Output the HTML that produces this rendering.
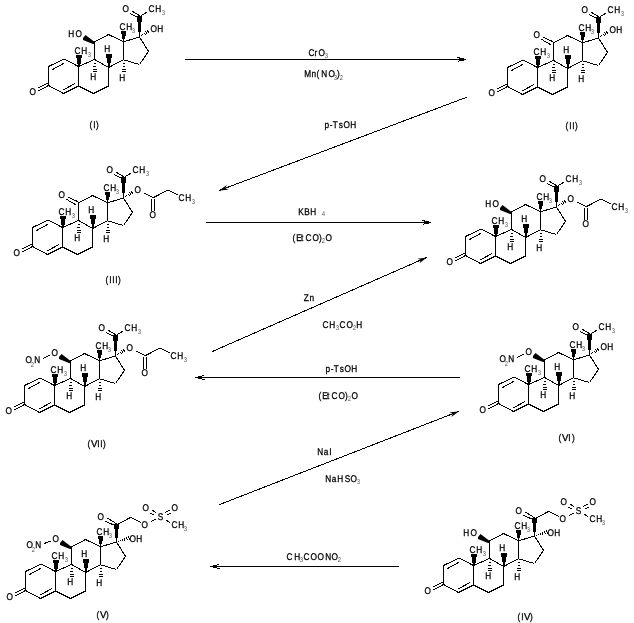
<!DOCTYPE html>
<html><head><meta charset="utf-8"><style>
html,body{margin:0;padding:0;background:#fff;width:634px;height:623px;overflow:hidden}
svg{display:block;will-change:transform}
text{font-family:"Liberation Sans",sans-serif;fill:#000;stroke:#000;stroke-width:0.3px;text-rendering:geometricPrecision}
tspan.s,text.s{stroke:none;fill:#555555}
line{stroke:#000}
polygon,rect{fill:#000}
</style></head><body>
<svg width="634" height="623" viewBox="0 0 634 623">
<rect width="634" height="623" style="fill:#fff"/>
<g shape-rendering="crispEdges">
<g transform="translate(0,0)">
<line x1="64.00" y1="59.00" x2="48.50" y2="66.50" stroke-width="1.0"/>
<line x1="48.50" y1="66.50" x2="48.50" y2="85.50" stroke-width="1.0"/>
<line x1="48.50" y1="85.50" x2="63.50" y2="93.50" stroke-width="1.0"/>
<line x1="63.50" y1="93.50" x2="78.50" y2="86.00" stroke-width="1.0"/>
<line x1="78.50" y1="86.00" x2="78.50" y2="66.50" stroke-width="1.0"/>
<line x1="78.50" y1="66.50" x2="64.00" y2="59.00" stroke-width="1.0"/>
<line x1="78.50" y1="86.00" x2="93.50" y2="93.50" stroke-width="1.0"/>
<line x1="93.50" y1="93.50" x2="108.50" y2="86.00" stroke-width="1.0"/>
<line x1="108.50" y1="86.00" x2="108.50" y2="67.50" stroke-width="1.0"/>
<line x1="108.50" y1="67.50" x2="94.50" y2="59.50" stroke-width="1.0"/>
<line x1="94.50" y1="59.50" x2="78.50" y2="66.50" stroke-width="1.0"/>
<line x1="94.50" y1="59.50" x2="94.50" y2="42.00" stroke-width="1.0"/>
<line x1="94.50" y1="42.00" x2="108.50" y2="34.50" stroke-width="1.0"/>
<line x1="108.50" y1="34.50" x2="123.50" y2="41.80" stroke-width="1.0"/>
<line x1="123.50" y1="41.80" x2="123.50" y2="59.80" stroke-width="1.0"/>
<line x1="123.50" y1="59.80" x2="108.50" y2="67.50" stroke-width="1.0"/>
<line x1="123.50" y1="41.80" x2="139.50" y2="37.00" stroke-width="1.0"/>
<line x1="139.50" y1="37.00" x2="148.50" y2="51.40" stroke-width="1.0"/>
<line x1="148.50" y1="51.40" x2="139.50" y2="64.50" stroke-width="1.0"/>
<line x1="139.50" y1="64.50" x2="123.50" y2="59.80" stroke-width="1.0"/>
<line x1="52.10" y1="69.80" x2="64.00" y2="63.20" stroke-width="1.0"/>
<line x1="63.40" y1="89.80" x2="74.70" y2="83.70" stroke-width="1.0"/>
<line x1="37.50" y1="88.40" x2="47.50" y2="83.20" stroke-width="1.0"/>
<line x1="38.50" y1="90.80" x2="48.50" y2="85.50" stroke-width="1.0"/>
<text transform="translate(29.61,95.00) scale(0.85,1)" font-size="9.7">O</text>
<polygon points="76,55 82,55 82,58 81,58 81,64 80,64 80,67 78,67 78,64 77,64 77,58 76,58"/>
<text transform="translate(74.58,54.00) scale(0.85,1)" font-size="9.7">C</text>
<text transform="translate(81.32,54.00) scale(0.85,1)" font-size="9.7">H</text>
<text transform="translate(87.77,57.00) scale(0.85,1)" font-size="7.0" class="s" fill="#9a9a9a">3</text>
<polygon points="121,31 126,31 126,36 125,36 125,39 124,39 124,42 123,42 123,39 122,39 122,34 121,34"/>
<text transform="translate(119.58,30.00) scale(0.85,1)" font-size="9.7">C</text>
<text transform="translate(126.32,30.00) scale(0.85,1)" font-size="9.7">H</text>
<text transform="translate(131.77,33.00) scale(0.85,1)" font-size="7.0" class="s" fill="#9a9a9a">3</text>
<polygon points="106,54 112,54 112,58 111,58 111,63 110,63 110,67 108,67 108,63 107,63 107,58 106,58"/>
<text transform="translate(104.32,52.00) scale(0.85,1)" font-size="9.7">H</text>
<line x1="93.80" y1="63.50" x2="95.80" y2="63.50" stroke-width="1.0"/>
<line x1="93.40" y1="66.50" x2="96.20" y2="66.50" stroke-width="1.0"/>
<line x1="92.90" y1="69.20" x2="96.70" y2="69.20" stroke-width="1.0"/>
<line x1="92.60" y1="71.50" x2="97.00" y2="71.50" stroke-width="1.0"/>
<text transform="translate(90.32,80.00) scale(0.85,1)" font-size="9.7">H</text>
<line x1="123.00" y1="63.50" x2="125.00" y2="63.50" stroke-width="1.0"/>
<line x1="122.60" y1="66.50" x2="125.40" y2="66.50" stroke-width="1.0"/>
<line x1="122.10" y1="69.20" x2="125.90" y2="69.20" stroke-width="1.0"/>
<line x1="121.80" y1="71.50" x2="126.20" y2="71.50" stroke-width="1.0"/>
<text transform="translate(119.32,81.00) scale(0.85,1)" font-size="9.7">H</text>
<polygon shape-rendering="auto" points="85.50,35.00 95.00,42.30 95.00,44.00 93.00,44.00 83.00,40.00 83.00,38.00"/>
<text transform="translate(68.32,37.00) scale(0.85,1)" font-size="9.7">H</text>
<text transform="translate(75.61,37.00) scale(0.85,1)" font-size="9.7">O</text>
<polygon points="137,16 142,16 142,22 141,22 141,32 140,32 140,37 139,37 139,32 138,32 138,22 137,22"/>
<line x1="131.80" y1="11.00" x2="139.70" y2="15.80" stroke-width="1.0"/>
<line x1="129.90" y1="13.40" x2="137.00" y2="17.00" stroke-width="1.0"/>
<text transform="translate(122.61,12.00) scale(0.85,1)" font-size="9.7">O</text>
<line x1="140.90" y1="15.80" x2="146.80" y2="12.20" stroke-width="1.0"/>
<text transform="translate(148.58,12.00) scale(0.85,1)" font-size="9.7">C</text>
<text transform="translate(155.32,12.00) scale(0.85,1)" font-size="9.7">H</text>
<text transform="translate(161.77,15.00) scale(0.85,1)" font-size="7.0" class="s" fill="#9a9a9a">3</text>
<line x1="141.01" y1="35.48" x2="141.55" y2="36.32" stroke-width="1.0"/>
<line x1="142.48" y1="34.07" x2="143.44" y2="35.53" stroke-width="1.0"/>
<line x1="143.96" y1="32.65" x2="145.32" y2="34.75" stroke-width="1.0"/>
<line x1="145.43" y1="31.24" x2="147.21" y2="33.96" stroke-width="1.0"/>
<line x1="146.90" y1="29.83" x2="149.10" y2="33.17" stroke-width="1.0"/>
<text transform="translate(150.61,32.00) scale(0.85,1)" font-size="9.7">O</text>
<text transform="translate(157.32,32.00) scale(0.85,1)" font-size="9.7">H</text>
</g>
<g transform="translate(459,1)">
<line x1="64.00" y1="59.00" x2="48.50" y2="66.50" stroke-width="1.0"/>
<line x1="48.50" y1="66.50" x2="48.50" y2="85.50" stroke-width="1.0"/>
<line x1="48.50" y1="85.50" x2="63.50" y2="93.50" stroke-width="1.0"/>
<line x1="63.50" y1="93.50" x2="78.50" y2="86.00" stroke-width="1.0"/>
<line x1="78.50" y1="86.00" x2="78.50" y2="66.50" stroke-width="1.0"/>
<line x1="78.50" y1="66.50" x2="64.00" y2="59.00" stroke-width="1.0"/>
<line x1="78.50" y1="86.00" x2="93.50" y2="93.50" stroke-width="1.0"/>
<line x1="93.50" y1="93.50" x2="108.50" y2="86.00" stroke-width="1.0"/>
<line x1="108.50" y1="86.00" x2="108.50" y2="67.50" stroke-width="1.0"/>
<line x1="108.50" y1="67.50" x2="94.50" y2="59.50" stroke-width="1.0"/>
<line x1="94.50" y1="59.50" x2="78.50" y2="66.50" stroke-width="1.0"/>
<line x1="94.50" y1="59.50" x2="94.50" y2="42.00" stroke-width="1.0"/>
<line x1="94.50" y1="42.00" x2="108.50" y2="34.50" stroke-width="1.0"/>
<line x1="108.50" y1="34.50" x2="123.50" y2="41.80" stroke-width="1.0"/>
<line x1="123.50" y1="41.80" x2="123.50" y2="59.80" stroke-width="1.0"/>
<line x1="123.50" y1="59.80" x2="108.50" y2="67.50" stroke-width="1.0"/>
<line x1="123.50" y1="41.80" x2="139.50" y2="37.00" stroke-width="1.0"/>
<line x1="139.50" y1="37.00" x2="148.50" y2="51.40" stroke-width="1.0"/>
<line x1="148.50" y1="51.40" x2="139.50" y2="64.50" stroke-width="1.0"/>
<line x1="139.50" y1="64.50" x2="123.50" y2="59.80" stroke-width="1.0"/>
<line x1="52.10" y1="69.80" x2="64.00" y2="63.20" stroke-width="1.0"/>
<line x1="63.40" y1="89.80" x2="74.70" y2="83.70" stroke-width="1.0"/>
<line x1="37.50" y1="88.40" x2="47.50" y2="83.20" stroke-width="1.0"/>
<line x1="38.50" y1="90.80" x2="48.50" y2="85.50" stroke-width="1.0"/>
<text transform="translate(29.61,95.00) scale(0.85,1)" font-size="9.7">O</text>
<polygon points="76,55 82,55 82,58 81,58 81,64 80,64 80,67 78,67 78,64 77,64 77,58 76,58"/>
<text transform="translate(74.58,54.00) scale(0.85,1)" font-size="9.7">C</text>
<text transform="translate(81.32,54.00) scale(0.85,1)" font-size="9.7">H</text>
<text transform="translate(87.77,57.00) scale(0.85,1)" font-size="7.0" class="s" fill="#9a9a9a">3</text>
<polygon points="121,31 126,31 126,36 125,36 125,39 124,39 124,42 123,42 123,39 122,39 122,34 121,34"/>
<text transform="translate(119.58,30.00) scale(0.85,1)" font-size="9.7">C</text>
<text transform="translate(126.32,30.00) scale(0.85,1)" font-size="9.7">H</text>
<text transform="translate(131.77,33.00) scale(0.85,1)" font-size="7.0" class="s" fill="#9a9a9a">3</text>
<polygon points="106,54 112,54 112,58 111,58 111,63 110,63 110,67 108,67 108,63 107,63 107,58 106,58"/>
<text transform="translate(104.32,52.00) scale(0.85,1)" font-size="9.7">H</text>
<line x1="93.80" y1="63.50" x2="95.80" y2="63.50" stroke-width="1.0"/>
<line x1="93.40" y1="66.50" x2="96.20" y2="66.50" stroke-width="1.0"/>
<line x1="92.90" y1="69.20" x2="96.70" y2="69.20" stroke-width="1.0"/>
<line x1="92.60" y1="71.50" x2="97.00" y2="71.50" stroke-width="1.0"/>
<text transform="translate(90.32,80.00) scale(0.85,1)" font-size="9.7">H</text>
<line x1="123.00" y1="63.50" x2="125.00" y2="63.50" stroke-width="1.0"/>
<line x1="122.60" y1="66.50" x2="125.40" y2="66.50" stroke-width="1.0"/>
<line x1="122.10" y1="69.20" x2="125.90" y2="69.20" stroke-width="1.0"/>
<line x1="121.80" y1="71.50" x2="126.20" y2="71.50" stroke-width="1.0"/>
<text transform="translate(119.32,81.00) scale(0.85,1)" font-size="9.7">H</text>
<line x1="84.30" y1="36.20" x2="93.60" y2="40.50" stroke-width="1.0"/>
<line x1="82.10" y1="38.10" x2="91.70" y2="43.70" stroke-width="1.0"/>
<text transform="translate(74.61,37.00) scale(0.85,1)" font-size="9.7">O</text>
<polygon points="137,16 142,16 142,22 141,22 141,32 140,32 140,37 139,37 139,32 138,32 138,22 137,22"/>
<line x1="131.80" y1="11.00" x2="139.70" y2="15.80" stroke-width="1.0"/>
<line x1="129.90" y1="13.40" x2="137.00" y2="17.00" stroke-width="1.0"/>
<text transform="translate(122.61,12.00) scale(0.85,1)" font-size="9.7">O</text>
<line x1="140.90" y1="15.80" x2="146.80" y2="12.20" stroke-width="1.0"/>
<text transform="translate(148.58,12.00) scale(0.85,1)" font-size="9.7">C</text>
<text transform="translate(155.32,12.00) scale(0.85,1)" font-size="9.7">H</text>
<text transform="translate(161.77,15.00) scale(0.85,1)" font-size="7.0" class="s" fill="#9a9a9a">3</text>
<line x1="141.01" y1="35.48" x2="141.55" y2="36.32" stroke-width="1.0"/>
<line x1="142.48" y1="34.07" x2="143.44" y2="35.53" stroke-width="1.0"/>
<line x1="143.96" y1="32.65" x2="145.32" y2="34.75" stroke-width="1.0"/>
<line x1="145.43" y1="31.24" x2="147.21" y2="33.96" stroke-width="1.0"/>
<line x1="146.90" y1="29.83" x2="149.10" y2="33.17" stroke-width="1.0"/>
<text transform="translate(150.61,32.00) scale(0.85,1)" font-size="9.7">O</text>
<text transform="translate(157.32,32.00) scale(0.85,1)" font-size="9.7">H</text>
</g>
<g transform="translate(-16,161)">
<line x1="64.00" y1="59.00" x2="48.50" y2="66.50" stroke-width="1.0"/>
<line x1="48.50" y1="66.50" x2="48.50" y2="85.50" stroke-width="1.0"/>
<line x1="48.50" y1="85.50" x2="63.50" y2="93.50" stroke-width="1.0"/>
<line x1="63.50" y1="93.50" x2="78.50" y2="86.00" stroke-width="1.0"/>
<line x1="78.50" y1="86.00" x2="78.50" y2="66.50" stroke-width="1.0"/>
<line x1="78.50" y1="66.50" x2="64.00" y2="59.00" stroke-width="1.0"/>
<line x1="78.50" y1="86.00" x2="93.50" y2="93.50" stroke-width="1.0"/>
<line x1="93.50" y1="93.50" x2="108.50" y2="86.00" stroke-width="1.0"/>
<line x1="108.50" y1="86.00" x2="108.50" y2="67.50" stroke-width="1.0"/>
<line x1="108.50" y1="67.50" x2="94.50" y2="59.50" stroke-width="1.0"/>
<line x1="94.50" y1="59.50" x2="78.50" y2="66.50" stroke-width="1.0"/>
<line x1="94.50" y1="59.50" x2="94.50" y2="42.00" stroke-width="1.0"/>
<line x1="94.50" y1="42.00" x2="108.50" y2="34.50" stroke-width="1.0"/>
<line x1="108.50" y1="34.50" x2="123.50" y2="41.80" stroke-width="1.0"/>
<line x1="123.50" y1="41.80" x2="123.50" y2="59.80" stroke-width="1.0"/>
<line x1="123.50" y1="59.80" x2="108.50" y2="67.50" stroke-width="1.0"/>
<line x1="123.50" y1="41.80" x2="139.50" y2="37.00" stroke-width="1.0"/>
<line x1="139.50" y1="37.00" x2="148.50" y2="51.40" stroke-width="1.0"/>
<line x1="148.50" y1="51.40" x2="139.50" y2="64.50" stroke-width="1.0"/>
<line x1="139.50" y1="64.50" x2="123.50" y2="59.80" stroke-width="1.0"/>
<line x1="52.10" y1="69.80" x2="64.00" y2="63.20" stroke-width="1.0"/>
<line x1="63.40" y1="89.80" x2="74.70" y2="83.70" stroke-width="1.0"/>
<line x1="37.50" y1="88.40" x2="47.50" y2="83.20" stroke-width="1.0"/>
<line x1="38.50" y1="90.80" x2="48.50" y2="85.50" stroke-width="1.0"/>
<text transform="translate(29.61,95.00) scale(0.85,1)" font-size="9.7">O</text>
<polygon points="76,55 82,55 82,58 81,58 81,64 80,64 80,67 78,67 78,64 77,64 77,58 76,58"/>
<text transform="translate(74.58,54.00) scale(0.85,1)" font-size="9.7">C</text>
<text transform="translate(81.32,54.00) scale(0.85,1)" font-size="9.7">H</text>
<text transform="translate(87.77,57.00) scale(0.85,1)" font-size="7.0" class="s" fill="#9a9a9a">3</text>
<polygon points="121,31 126,31 126,36 125,36 125,39 124,39 124,42 123,42 123,39 122,39 122,34 121,34"/>
<text transform="translate(119.58,30.00) scale(0.85,1)" font-size="9.7">C</text>
<text transform="translate(126.32,30.00) scale(0.85,1)" font-size="9.7">H</text>
<text transform="translate(131.77,33.00) scale(0.85,1)" font-size="7.0" class="s" fill="#9a9a9a">3</text>
<polygon points="106,54 112,54 112,58 111,58 111,63 110,63 110,67 108,67 108,63 107,63 107,58 106,58"/>
<text transform="translate(104.32,52.00) scale(0.85,1)" font-size="9.7">H</text>
<line x1="93.80" y1="63.50" x2="95.80" y2="63.50" stroke-width="1.0"/>
<line x1="93.40" y1="66.50" x2="96.20" y2="66.50" stroke-width="1.0"/>
<line x1="92.90" y1="69.20" x2="96.70" y2="69.20" stroke-width="1.0"/>
<line x1="92.60" y1="71.50" x2="97.00" y2="71.50" stroke-width="1.0"/>
<text transform="translate(90.32,80.00) scale(0.85,1)" font-size="9.7">H</text>
<line x1="123.00" y1="63.50" x2="125.00" y2="63.50" stroke-width="1.0"/>
<line x1="122.60" y1="66.50" x2="125.40" y2="66.50" stroke-width="1.0"/>
<line x1="122.10" y1="69.20" x2="125.90" y2="69.20" stroke-width="1.0"/>
<line x1="121.80" y1="71.50" x2="126.20" y2="71.50" stroke-width="1.0"/>
<text transform="translate(119.32,81.00) scale(0.85,1)" font-size="9.7">H</text>
<line x1="84.30" y1="36.20" x2="93.60" y2="40.50" stroke-width="1.0"/>
<line x1="82.10" y1="38.10" x2="91.70" y2="43.70" stroke-width="1.0"/>
<text transform="translate(74.61,37.00) scale(0.85,1)" font-size="9.7">O</text>
<polygon points="137,16 142,16 142,22 141,22 141,32 140,32 140,37 139,37 139,32 138,32 138,22 137,22"/>
<line x1="131.80" y1="11.00" x2="139.70" y2="15.80" stroke-width="1.0"/>
<line x1="129.90" y1="13.40" x2="137.00" y2="17.00" stroke-width="1.0"/>
<text transform="translate(122.61,12.00) scale(0.85,1)" font-size="9.7">O</text>
<line x1="140.90" y1="15.80" x2="146.80" y2="12.20" stroke-width="1.0"/>
<text transform="translate(148.58,12.00) scale(0.85,1)" font-size="9.7">C</text>
<text transform="translate(155.32,12.00) scale(0.85,1)" font-size="9.7">H</text>
<text transform="translate(161.77,15.00) scale(0.85,1)" font-size="7.0" class="s" fill="#9a9a9a">3</text>
<line x1="141.01" y1="35.48" x2="141.55" y2="36.32" stroke-width="1.0"/>
<line x1="142.48" y1="34.07" x2="143.44" y2="35.53" stroke-width="1.0"/>
<line x1="143.96" y1="32.65" x2="145.32" y2="34.75" stroke-width="1.0"/>
<line x1="145.43" y1="31.24" x2="147.21" y2="33.96" stroke-width="1.0"/>
<line x1="146.90" y1="29.83" x2="149.10" y2="33.17" stroke-width="1.0"/>
<text transform="translate(150.61,32.00) scale(0.85,1)" font-size="9.7">O</text>
<line x1="160.30" y1="32.00" x2="169.20" y2="36.70" stroke-width="1.0"/>
<line x1="167.40" y1="37.70" x2="167.40" y2="50.00" stroke-width="1.0"/>
<line x1="170.20" y1="37.70" x2="170.20" y2="50.00" stroke-width="1.0"/>
<text transform="translate(165.61,57.00) scale(0.85,1)" font-size="9.7">O</text>
<line x1="169.20" y1="36.70" x2="183.90" y2="29.10" stroke-width="1.0"/>
<line x1="183.90" y1="29.10" x2="193.80" y2="33.90" stroke-width="1.0"/>
<text transform="translate(194.58,40.00) scale(0.85,1)" font-size="9.7">C</text>
<text transform="translate(201.32,40.00) scale(0.85,1)" font-size="9.7">H</text>
<text transform="translate(207.77,43.00) scale(0.85,1)" font-size="7.0" class="s" fill="#9a9a9a">3</text>
</g>
<g transform="translate(417,170)">
<line x1="64.00" y1="59.00" x2="48.50" y2="66.50" stroke-width="1.0"/>
<line x1="48.50" y1="66.50" x2="48.50" y2="85.50" stroke-width="1.0"/>
<line x1="48.50" y1="85.50" x2="63.50" y2="93.50" stroke-width="1.0"/>
<line x1="63.50" y1="93.50" x2="78.50" y2="86.00" stroke-width="1.0"/>
<line x1="78.50" y1="86.00" x2="78.50" y2="66.50" stroke-width="1.0"/>
<line x1="78.50" y1="66.50" x2="64.00" y2="59.00" stroke-width="1.0"/>
<line x1="78.50" y1="86.00" x2="93.50" y2="93.50" stroke-width="1.0"/>
<line x1="93.50" y1="93.50" x2="108.50" y2="86.00" stroke-width="1.0"/>
<line x1="108.50" y1="86.00" x2="108.50" y2="67.50" stroke-width="1.0"/>
<line x1="108.50" y1="67.50" x2="94.50" y2="59.50" stroke-width="1.0"/>
<line x1="94.50" y1="59.50" x2="78.50" y2="66.50" stroke-width="1.0"/>
<line x1="94.50" y1="59.50" x2="94.50" y2="42.00" stroke-width="1.0"/>
<line x1="94.50" y1="42.00" x2="108.50" y2="34.50" stroke-width="1.0"/>
<line x1="108.50" y1="34.50" x2="123.50" y2="41.80" stroke-width="1.0"/>
<line x1="123.50" y1="41.80" x2="123.50" y2="59.80" stroke-width="1.0"/>
<line x1="123.50" y1="59.80" x2="108.50" y2="67.50" stroke-width="1.0"/>
<line x1="123.50" y1="41.80" x2="139.50" y2="37.00" stroke-width="1.0"/>
<line x1="139.50" y1="37.00" x2="148.50" y2="51.40" stroke-width="1.0"/>
<line x1="148.50" y1="51.40" x2="139.50" y2="64.50" stroke-width="1.0"/>
<line x1="139.50" y1="64.50" x2="123.50" y2="59.80" stroke-width="1.0"/>
<line x1="52.10" y1="69.80" x2="64.00" y2="63.20" stroke-width="1.0"/>
<line x1="63.40" y1="89.80" x2="74.70" y2="83.70" stroke-width="1.0"/>
<line x1="37.50" y1="88.40" x2="47.50" y2="83.20" stroke-width="1.0"/>
<line x1="38.50" y1="90.80" x2="48.50" y2="85.50" stroke-width="1.0"/>
<text transform="translate(29.61,95.00) scale(0.85,1)" font-size="9.7">O</text>
<polygon points="76,55 82,55 82,58 81,58 81,64 80,64 80,67 78,67 78,64 77,64 77,58 76,58"/>
<text transform="translate(74.58,54.00) scale(0.85,1)" font-size="9.7">C</text>
<text transform="translate(81.32,54.00) scale(0.85,1)" font-size="9.7">H</text>
<text transform="translate(87.77,57.00) scale(0.85,1)" font-size="7.0" class="s" fill="#9a9a9a">3</text>
<polygon points="121,31 126,31 126,36 125,36 125,39 124,39 124,42 123,42 123,39 122,39 122,34 121,34"/>
<text transform="translate(119.58,30.00) scale(0.85,1)" font-size="9.7">C</text>
<text transform="translate(126.32,30.00) scale(0.85,1)" font-size="9.7">H</text>
<text transform="translate(131.77,33.00) scale(0.85,1)" font-size="7.0" class="s" fill="#9a9a9a">3</text>
<polygon points="106,54 112,54 112,58 111,58 111,63 110,63 110,67 108,67 108,63 107,63 107,58 106,58"/>
<text transform="translate(104.32,52.00) scale(0.85,1)" font-size="9.7">H</text>
<line x1="93.80" y1="63.50" x2="95.80" y2="63.50" stroke-width="1.0"/>
<line x1="93.40" y1="66.50" x2="96.20" y2="66.50" stroke-width="1.0"/>
<line x1="92.90" y1="69.20" x2="96.70" y2="69.20" stroke-width="1.0"/>
<line x1="92.60" y1="71.50" x2="97.00" y2="71.50" stroke-width="1.0"/>
<text transform="translate(90.32,80.00) scale(0.85,1)" font-size="9.7">H</text>
<line x1="123.00" y1="63.50" x2="125.00" y2="63.50" stroke-width="1.0"/>
<line x1="122.60" y1="66.50" x2="125.40" y2="66.50" stroke-width="1.0"/>
<line x1="122.10" y1="69.20" x2="125.90" y2="69.20" stroke-width="1.0"/>
<line x1="121.80" y1="71.50" x2="126.20" y2="71.50" stroke-width="1.0"/>
<text transform="translate(119.32,81.00) scale(0.85,1)" font-size="9.7">H</text>
<polygon shape-rendering="auto" points="85.50,35.00 95.00,42.30 95.00,44.00 93.00,44.00 83.00,40.00 83.00,38.00"/>
<text transform="translate(68.32,37.00) scale(0.85,1)" font-size="9.7">H</text>
<text transform="translate(75.61,37.00) scale(0.85,1)" font-size="9.7">O</text>
<polygon points="137,16 142,16 142,22 141,22 141,32 140,32 140,37 139,37 139,32 138,32 138,22 137,22"/>
<line x1="131.80" y1="11.00" x2="139.70" y2="15.80" stroke-width="1.0"/>
<line x1="129.90" y1="13.40" x2="137.00" y2="17.00" stroke-width="1.0"/>
<text transform="translate(122.61,12.00) scale(0.85,1)" font-size="9.7">O</text>
<line x1="140.90" y1="15.80" x2="146.80" y2="12.20" stroke-width="1.0"/>
<text transform="translate(148.58,12.00) scale(0.85,1)" font-size="9.7">C</text>
<text transform="translate(155.32,12.00) scale(0.85,1)" font-size="9.7">H</text>
<text transform="translate(161.77,15.00) scale(0.85,1)" font-size="7.0" class="s" fill="#9a9a9a">3</text>
<line x1="141.01" y1="35.48" x2="141.55" y2="36.32" stroke-width="1.0"/>
<line x1="142.48" y1="34.07" x2="143.44" y2="35.53" stroke-width="1.0"/>
<line x1="143.96" y1="32.65" x2="145.32" y2="34.75" stroke-width="1.0"/>
<line x1="145.43" y1="31.24" x2="147.21" y2="33.96" stroke-width="1.0"/>
<line x1="146.90" y1="29.83" x2="149.10" y2="33.17" stroke-width="1.0"/>
<text transform="translate(150.61,32.00) scale(0.85,1)" font-size="9.7">O</text>
<line x1="160.30" y1="32.00" x2="169.20" y2="36.70" stroke-width="1.0"/>
<line x1="167.40" y1="37.70" x2="167.40" y2="50.00" stroke-width="1.0"/>
<line x1="170.20" y1="37.70" x2="170.20" y2="50.00" stroke-width="1.0"/>
<text transform="translate(165.61,57.00) scale(0.85,1)" font-size="9.7">O</text>
<line x1="169.20" y1="36.70" x2="183.90" y2="29.10" stroke-width="1.0"/>
<line x1="183.90" y1="29.10" x2="193.80" y2="33.90" stroke-width="1.0"/>
<text transform="translate(194.58,40.00) scale(0.85,1)" font-size="9.7">C</text>
<text transform="translate(201.32,40.00) scale(0.85,1)" font-size="9.7">H</text>
<text transform="translate(207.77,43.00) scale(0.85,1)" font-size="7.0" class="s" fill="#9a9a9a">3</text>
</g>
<g transform="translate(-24,319)">
<line x1="64.00" y1="59.00" x2="48.50" y2="66.50" stroke-width="1.0"/>
<line x1="48.50" y1="66.50" x2="48.50" y2="85.50" stroke-width="1.0"/>
<line x1="48.50" y1="85.50" x2="63.50" y2="93.50" stroke-width="1.0"/>
<line x1="63.50" y1="93.50" x2="78.50" y2="86.00" stroke-width="1.0"/>
<line x1="78.50" y1="86.00" x2="78.50" y2="66.50" stroke-width="1.0"/>
<line x1="78.50" y1="66.50" x2="64.00" y2="59.00" stroke-width="1.0"/>
<line x1="78.50" y1="86.00" x2="93.50" y2="93.50" stroke-width="1.0"/>
<line x1="93.50" y1="93.50" x2="108.50" y2="86.00" stroke-width="1.0"/>
<line x1="108.50" y1="86.00" x2="108.50" y2="67.50" stroke-width="1.0"/>
<line x1="108.50" y1="67.50" x2="94.50" y2="59.50" stroke-width="1.0"/>
<line x1="94.50" y1="59.50" x2="78.50" y2="66.50" stroke-width="1.0"/>
<line x1="94.50" y1="59.50" x2="94.50" y2="42.00" stroke-width="1.0"/>
<line x1="94.50" y1="42.00" x2="108.50" y2="34.50" stroke-width="1.0"/>
<line x1="108.50" y1="34.50" x2="123.50" y2="41.80" stroke-width="1.0"/>
<line x1="123.50" y1="41.80" x2="123.50" y2="59.80" stroke-width="1.0"/>
<line x1="123.50" y1="59.80" x2="108.50" y2="67.50" stroke-width="1.0"/>
<line x1="123.50" y1="41.80" x2="139.50" y2="37.00" stroke-width="1.0"/>
<line x1="139.50" y1="37.00" x2="148.50" y2="51.40" stroke-width="1.0"/>
<line x1="148.50" y1="51.40" x2="139.50" y2="64.50" stroke-width="1.0"/>
<line x1="139.50" y1="64.50" x2="123.50" y2="59.80" stroke-width="1.0"/>
<line x1="52.10" y1="69.80" x2="64.00" y2="63.20" stroke-width="1.0"/>
<line x1="63.40" y1="89.80" x2="74.70" y2="83.70" stroke-width="1.0"/>
<line x1="37.50" y1="88.40" x2="47.50" y2="83.20" stroke-width="1.0"/>
<line x1="38.50" y1="90.80" x2="48.50" y2="85.50" stroke-width="1.0"/>
<text transform="translate(29.61,95.00) scale(0.85,1)" font-size="9.7">O</text>
<polygon points="76,55 82,55 82,58 81,58 81,64 80,64 80,67 78,67 78,64 77,64 77,58 76,58"/>
<text transform="translate(74.58,54.00) scale(0.85,1)" font-size="9.7">C</text>
<text transform="translate(81.32,54.00) scale(0.85,1)" font-size="9.7">H</text>
<text transform="translate(87.77,57.00) scale(0.85,1)" font-size="7.0" class="s" fill="#9a9a9a">3</text>
<polygon points="121,31 126,31 126,36 125,36 125,39 124,39 124,42 123,42 123,39 122,39 122,34 121,34"/>
<text transform="translate(119.58,30.00) scale(0.85,1)" font-size="9.7">C</text>
<text transform="translate(126.32,30.00) scale(0.85,1)" font-size="9.7">H</text>
<text transform="translate(131.77,33.00) scale(0.85,1)" font-size="7.0" class="s" fill="#9a9a9a">3</text>
<polygon points="106,54 112,54 112,58 111,58 111,63 110,63 110,67 108,67 108,63 107,63 107,58 106,58"/>
<text transform="translate(104.32,52.00) scale(0.85,1)" font-size="9.7">H</text>
<line x1="93.80" y1="63.50" x2="95.80" y2="63.50" stroke-width="1.0"/>
<line x1="93.40" y1="66.50" x2="96.20" y2="66.50" stroke-width="1.0"/>
<line x1="92.90" y1="69.20" x2="96.70" y2="69.20" stroke-width="1.0"/>
<line x1="92.60" y1="71.50" x2="97.00" y2="71.50" stroke-width="1.0"/>
<text transform="translate(90.32,80.00) scale(0.85,1)" font-size="9.7">H</text>
<line x1="123.00" y1="63.50" x2="125.00" y2="63.50" stroke-width="1.0"/>
<line x1="122.60" y1="66.50" x2="125.40" y2="66.50" stroke-width="1.0"/>
<line x1="122.10" y1="69.20" x2="125.90" y2="69.20" stroke-width="1.0"/>
<line x1="121.80" y1="71.50" x2="126.20" y2="71.50" stroke-width="1.0"/>
<text transform="translate(119.32,81.00) scale(0.85,1)" font-size="9.7">H</text>
<polygon shape-rendering="auto" points="85.50,35.00 95.00,42.30 95.00,44.00 93.00,44.00 83.00,40.00 83.00,38.00"/>
<text transform="translate(75.61,37.00) scale(0.85,1)" font-size="9.7">O</text>
<line x1="67.40" y1="39.40" x2="73.50" y2="36.10" stroke-width="1.0"/>
<text transform="translate(58.32,44.00) scale(0.85,1)" font-size="9.7">N</text>
<text transform="translate(49.61,44.00) scale(0.85,1)" font-size="9.7">O</text>
<text transform="translate(54.70,48.00) scale(0.85,1)" font-size="7.0" class="s" fill="#9a9a9a">2</text>
<polygon points="137,16 142,16 142,22 141,22 141,32 140,32 140,37 139,37 139,32 138,32 138,22 137,22"/>
<line x1="131.80" y1="11.00" x2="139.70" y2="15.80" stroke-width="1.0"/>
<line x1="129.90" y1="13.40" x2="137.00" y2="17.00" stroke-width="1.0"/>
<text transform="translate(122.61,12.00) scale(0.85,1)" font-size="9.7">O</text>
<line x1="140.90" y1="15.80" x2="146.80" y2="12.20" stroke-width="1.0"/>
<text transform="translate(148.58,12.00) scale(0.85,1)" font-size="9.7">C</text>
<text transform="translate(155.32,12.00) scale(0.85,1)" font-size="9.7">H</text>
<text transform="translate(161.77,15.00) scale(0.85,1)" font-size="7.0" class="s" fill="#9a9a9a">3</text>
<line x1="141.01" y1="35.48" x2="141.55" y2="36.32" stroke-width="1.0"/>
<line x1="142.48" y1="34.07" x2="143.44" y2="35.53" stroke-width="1.0"/>
<line x1="143.96" y1="32.65" x2="145.32" y2="34.75" stroke-width="1.0"/>
<line x1="145.43" y1="31.24" x2="147.21" y2="33.96" stroke-width="1.0"/>
<line x1="146.90" y1="29.83" x2="149.10" y2="33.17" stroke-width="1.0"/>
<text transform="translate(150.61,32.00) scale(0.85,1)" font-size="9.7">O</text>
<line x1="160.30" y1="32.00" x2="169.20" y2="36.70" stroke-width="1.0"/>
<line x1="167.40" y1="37.70" x2="167.40" y2="50.00" stroke-width="1.0"/>
<line x1="170.20" y1="37.70" x2="170.20" y2="50.00" stroke-width="1.0"/>
<text transform="translate(165.61,57.00) scale(0.85,1)" font-size="9.7">O</text>
<line x1="169.20" y1="36.70" x2="183.90" y2="29.10" stroke-width="1.0"/>
<line x1="183.90" y1="29.10" x2="193.80" y2="33.90" stroke-width="1.0"/>
<text transform="translate(194.58,40.00) scale(0.85,1)" font-size="9.7">C</text>
<text transform="translate(201.32,40.00) scale(0.85,1)" font-size="9.7">H</text>
<text transform="translate(207.77,43.00) scale(0.85,1)" font-size="7.0" class="s" fill="#9a9a9a">3</text>
</g>
<g transform="translate(450,318)">
<line x1="64.00" y1="59.00" x2="48.50" y2="66.50" stroke-width="1.0"/>
<line x1="48.50" y1="66.50" x2="48.50" y2="85.50" stroke-width="1.0"/>
<line x1="48.50" y1="85.50" x2="63.50" y2="93.50" stroke-width="1.0"/>
<line x1="63.50" y1="93.50" x2="78.50" y2="86.00" stroke-width="1.0"/>
<line x1="78.50" y1="86.00" x2="78.50" y2="66.50" stroke-width="1.0"/>
<line x1="78.50" y1="66.50" x2="64.00" y2="59.00" stroke-width="1.0"/>
<line x1="78.50" y1="86.00" x2="93.50" y2="93.50" stroke-width="1.0"/>
<line x1="93.50" y1="93.50" x2="108.50" y2="86.00" stroke-width="1.0"/>
<line x1="108.50" y1="86.00" x2="108.50" y2="67.50" stroke-width="1.0"/>
<line x1="108.50" y1="67.50" x2="94.50" y2="59.50" stroke-width="1.0"/>
<line x1="94.50" y1="59.50" x2="78.50" y2="66.50" stroke-width="1.0"/>
<line x1="94.50" y1="59.50" x2="94.50" y2="42.00" stroke-width="1.0"/>
<line x1="94.50" y1="42.00" x2="108.50" y2="34.50" stroke-width="1.0"/>
<line x1="108.50" y1="34.50" x2="123.50" y2="41.80" stroke-width="1.0"/>
<line x1="123.50" y1="41.80" x2="123.50" y2="59.80" stroke-width="1.0"/>
<line x1="123.50" y1="59.80" x2="108.50" y2="67.50" stroke-width="1.0"/>
<line x1="123.50" y1="41.80" x2="139.50" y2="37.00" stroke-width="1.0"/>
<line x1="139.50" y1="37.00" x2="148.50" y2="51.40" stroke-width="1.0"/>
<line x1="148.50" y1="51.40" x2="139.50" y2="64.50" stroke-width="1.0"/>
<line x1="139.50" y1="64.50" x2="123.50" y2="59.80" stroke-width="1.0"/>
<line x1="52.10" y1="69.80" x2="64.00" y2="63.20" stroke-width="1.0"/>
<line x1="63.40" y1="89.80" x2="74.70" y2="83.70" stroke-width="1.0"/>
<line x1="37.50" y1="88.40" x2="47.50" y2="83.20" stroke-width="1.0"/>
<line x1="38.50" y1="90.80" x2="48.50" y2="85.50" stroke-width="1.0"/>
<text transform="translate(29.61,95.00) scale(0.85,1)" font-size="9.7">O</text>
<polygon points="76,55 82,55 82,58 81,58 81,64 80,64 80,67 78,67 78,64 77,64 77,58 76,58"/>
<text transform="translate(74.58,54.00) scale(0.85,1)" font-size="9.7">C</text>
<text transform="translate(81.32,54.00) scale(0.85,1)" font-size="9.7">H</text>
<text transform="translate(87.77,57.00) scale(0.85,1)" font-size="7.0" class="s" fill="#9a9a9a">3</text>
<polygon points="121,31 126,31 126,36 125,36 125,39 124,39 124,42 123,42 123,39 122,39 122,34 121,34"/>
<text transform="translate(119.58,30.00) scale(0.85,1)" font-size="9.7">C</text>
<text transform="translate(126.32,30.00) scale(0.85,1)" font-size="9.7">H</text>
<text transform="translate(131.77,33.00) scale(0.85,1)" font-size="7.0" class="s" fill="#9a9a9a">3</text>
<polygon points="106,54 112,54 112,58 111,58 111,63 110,63 110,67 108,67 108,63 107,63 107,58 106,58"/>
<text transform="translate(104.32,52.00) scale(0.85,1)" font-size="9.7">H</text>
<line x1="93.80" y1="63.50" x2="95.80" y2="63.50" stroke-width="1.0"/>
<line x1="93.40" y1="66.50" x2="96.20" y2="66.50" stroke-width="1.0"/>
<line x1="92.90" y1="69.20" x2="96.70" y2="69.20" stroke-width="1.0"/>
<line x1="92.60" y1="71.50" x2="97.00" y2="71.50" stroke-width="1.0"/>
<text transform="translate(90.32,80.00) scale(0.85,1)" font-size="9.7">H</text>
<line x1="123.00" y1="63.50" x2="125.00" y2="63.50" stroke-width="1.0"/>
<line x1="122.60" y1="66.50" x2="125.40" y2="66.50" stroke-width="1.0"/>
<line x1="122.10" y1="69.20" x2="125.90" y2="69.20" stroke-width="1.0"/>
<line x1="121.80" y1="71.50" x2="126.20" y2="71.50" stroke-width="1.0"/>
<text transform="translate(119.32,81.00) scale(0.85,1)" font-size="9.7">H</text>
<polygon shape-rendering="auto" points="85.50,35.00 95.00,42.30 95.00,44.00 93.00,44.00 83.00,40.00 83.00,38.00"/>
<text transform="translate(75.61,37.00) scale(0.85,1)" font-size="9.7">O</text>
<line x1="67.40" y1="39.40" x2="73.50" y2="36.10" stroke-width="1.0"/>
<text transform="translate(58.32,44.00) scale(0.85,1)" font-size="9.7">N</text>
<text transform="translate(49.61,44.00) scale(0.85,1)" font-size="9.7">O</text>
<text transform="translate(54.70,48.00) scale(0.85,1)" font-size="7.0" class="s" fill="#9a9a9a">2</text>
<polygon points="137,16 142,16 142,22 141,22 141,32 140,32 140,37 139,37 139,32 138,32 138,22 137,22"/>
<line x1="131.80" y1="11.00" x2="139.70" y2="15.80" stroke-width="1.0"/>
<line x1="129.90" y1="13.40" x2="137.00" y2="17.00" stroke-width="1.0"/>
<text transform="translate(122.61,12.00) scale(0.85,1)" font-size="9.7">O</text>
<line x1="140.90" y1="15.80" x2="146.80" y2="12.20" stroke-width="1.0"/>
<text transform="translate(148.58,12.00) scale(0.85,1)" font-size="9.7">C</text>
<text transform="translate(155.32,12.00) scale(0.85,1)" font-size="9.7">H</text>
<text transform="translate(161.77,15.00) scale(0.85,1)" font-size="7.0" class="s" fill="#9a9a9a">3</text>
<line x1="141.01" y1="35.48" x2="141.55" y2="36.32" stroke-width="1.0"/>
<line x1="142.48" y1="34.07" x2="143.44" y2="35.53" stroke-width="1.0"/>
<line x1="143.96" y1="32.65" x2="145.32" y2="34.75" stroke-width="1.0"/>
<line x1="145.43" y1="31.24" x2="147.21" y2="33.96" stroke-width="1.0"/>
<line x1="146.90" y1="29.83" x2="149.10" y2="33.17" stroke-width="1.0"/>
<text transform="translate(150.61,32.00) scale(0.85,1)" font-size="9.7">O</text>
<text transform="translate(157.32,32.00) scale(0.85,1)" font-size="9.7">H</text>
</g>
<g transform="translate(-23,505)">
<line x1="64.00" y1="59.00" x2="48.50" y2="66.50" stroke-width="1.0"/>
<line x1="48.50" y1="66.50" x2="48.50" y2="85.50" stroke-width="1.0"/>
<line x1="48.50" y1="85.50" x2="63.50" y2="93.50" stroke-width="1.0"/>
<line x1="63.50" y1="93.50" x2="78.50" y2="86.00" stroke-width="1.0"/>
<line x1="78.50" y1="86.00" x2="78.50" y2="66.50" stroke-width="1.0"/>
<line x1="78.50" y1="66.50" x2="64.00" y2="59.00" stroke-width="1.0"/>
<line x1="78.50" y1="86.00" x2="93.50" y2="93.50" stroke-width="1.0"/>
<line x1="93.50" y1="93.50" x2="108.50" y2="86.00" stroke-width="1.0"/>
<line x1="108.50" y1="86.00" x2="108.50" y2="67.50" stroke-width="1.0"/>
<line x1="108.50" y1="67.50" x2="94.50" y2="59.50" stroke-width="1.0"/>
<line x1="94.50" y1="59.50" x2="78.50" y2="66.50" stroke-width="1.0"/>
<line x1="94.50" y1="59.50" x2="94.50" y2="42.00" stroke-width="1.0"/>
<line x1="94.50" y1="42.00" x2="108.50" y2="34.50" stroke-width="1.0"/>
<line x1="108.50" y1="34.50" x2="123.50" y2="41.80" stroke-width="1.0"/>
<line x1="123.50" y1="41.80" x2="123.50" y2="59.80" stroke-width="1.0"/>
<line x1="123.50" y1="59.80" x2="108.50" y2="67.50" stroke-width="1.0"/>
<line x1="123.50" y1="41.80" x2="139.50" y2="37.00" stroke-width="1.0"/>
<line x1="139.50" y1="37.00" x2="148.50" y2="51.40" stroke-width="1.0"/>
<line x1="148.50" y1="51.40" x2="139.50" y2="64.50" stroke-width="1.0"/>
<line x1="139.50" y1="64.50" x2="123.50" y2="59.80" stroke-width="1.0"/>
<line x1="52.10" y1="69.80" x2="64.00" y2="63.20" stroke-width="1.0"/>
<line x1="63.40" y1="89.80" x2="74.70" y2="83.70" stroke-width="1.0"/>
<line x1="37.50" y1="88.40" x2="47.50" y2="83.20" stroke-width="1.0"/>
<line x1="38.50" y1="90.80" x2="48.50" y2="85.50" stroke-width="1.0"/>
<text transform="translate(29.61,95.00) scale(0.85,1)" font-size="9.7">O</text>
<polygon points="76,55 82,55 82,58 81,58 81,64 80,64 80,67 78,67 78,64 77,64 77,58 76,58"/>
<text transform="translate(74.58,54.00) scale(0.85,1)" font-size="9.7">C</text>
<text transform="translate(81.32,54.00) scale(0.85,1)" font-size="9.7">H</text>
<text transform="translate(87.77,57.00) scale(0.85,1)" font-size="7.0" class="s" fill="#9a9a9a">3</text>
<polygon points="121,31 126,31 126,36 125,36 125,39 124,39 124,42 123,42 123,39 122,39 122,34 121,34"/>
<text transform="translate(119.58,30.00) scale(0.85,1)" font-size="9.7">C</text>
<text transform="translate(126.32,30.00) scale(0.85,1)" font-size="9.7">H</text>
<text transform="translate(131.77,33.00) scale(0.85,1)" font-size="7.0" class="s" fill="#9a9a9a">3</text>
<polygon points="106,54 112,54 112,58 111,58 111,63 110,63 110,67 108,67 108,63 107,63 107,58 106,58"/>
<text transform="translate(104.32,52.00) scale(0.85,1)" font-size="9.7">H</text>
<line x1="93.80" y1="63.50" x2="95.80" y2="63.50" stroke-width="1.0"/>
<line x1="93.40" y1="66.50" x2="96.20" y2="66.50" stroke-width="1.0"/>
<line x1="92.90" y1="69.20" x2="96.70" y2="69.20" stroke-width="1.0"/>
<line x1="92.60" y1="71.50" x2="97.00" y2="71.50" stroke-width="1.0"/>
<text transform="translate(90.32,80.00) scale(0.85,1)" font-size="9.7">H</text>
<line x1="123.00" y1="63.50" x2="125.00" y2="63.50" stroke-width="1.0"/>
<line x1="122.60" y1="66.50" x2="125.40" y2="66.50" stroke-width="1.0"/>
<line x1="122.10" y1="69.20" x2="125.90" y2="69.20" stroke-width="1.0"/>
<line x1="121.80" y1="71.50" x2="126.20" y2="71.50" stroke-width="1.0"/>
<text transform="translate(119.32,81.00) scale(0.85,1)" font-size="9.7">H</text>
<polygon shape-rendering="auto" points="85.50,35.00 95.00,42.30 95.00,44.00 93.00,44.00 83.00,40.00 83.00,38.00"/>
<text transform="translate(75.61,37.00) scale(0.85,1)" font-size="9.7">O</text>
<line x1="67.40" y1="38.40" x2="73.50" y2="36.10" stroke-width="1.0"/>
<text transform="translate(58.32,43.00) scale(0.85,1)" font-size="9.7">N</text>
<text transform="translate(49.61,43.00) scale(0.85,1)" font-size="9.7">O</text>
<text transform="translate(54.70,47.00) scale(0.85,1)" font-size="7.0" class="s" fill="#9a9a9a">2</text>
<g transform="translate(0,1)">
<polygon points="137,18 142,18 142,23 141,23 141,32 140,32 140,37 139,37 139,32 138,32 138,23 137,23"/>
<line x1="130.20" y1="12.10" x2="139.50" y2="17.70" stroke-width="1.0"/>
<line x1="128.20" y1="15.30" x2="137.50" y2="19.30" stroke-width="1.0"/>
<text transform="translate(120.61,14.00) scale(0.85,1)" font-size="9.7">O</text>
<line x1="141.50" y1="17.70" x2="153.90" y2="11.30" stroke-width="1.0"/>
<line x1="153.90" y1="11.30" x2="164.00" y2="16.50" stroke-width="1.0"/>
<text transform="translate(164.61,22.00) scale(0.85,1)" font-size="9.7">O</text>
<line x1="174.00" y1="15.50" x2="178.90" y2="13.10" stroke-width="1.0"/>
<text transform="translate(180.63,14.00) scale(0.85,1)" font-size="9.7">S</text>
<line x1="175.20" y1="4.30" x2="178.90" y2="6.30" stroke-width="1.0"/>
<line x1="173.20" y1="7.50" x2="176.90" y2="8.70" stroke-width="1.0"/>
<text transform="translate(165.61,5.00) scale(0.85,1)" font-size="9.7">O</text>
<line x1="188.10" y1="6.30" x2="192.90" y2="4.30" stroke-width="1.0"/>
<line x1="190.10" y1="8.70" x2="193.70" y2="7.10" stroke-width="1.0"/>
<text transform="translate(194.61,5.00) scale(0.85,1)" font-size="9.7">O</text>
<line x1="189.30" y1="14.30" x2="192.90" y2="16.70" stroke-width="1.0"/>
<text transform="translate(194.58,22.00) scale(0.85,1)" font-size="9.7">C</text>
<text transform="translate(201.32,22.00) scale(0.85,1)" font-size="9.7">H</text>
<text transform="translate(206.77,25.00) scale(0.85,1)" font-size="7.0" class="s" fill="#9a9a9a">3</text>
<line x1="140.86" y1="34.97" x2="141.18" y2="35.91" stroke-width="1.0"/>
<line x1="142.92" y1="33.90" x2="143.47" y2="35.49" stroke-width="1.0"/>
<line x1="144.99" y1="32.83" x2="145.76" y2="35.06" stroke-width="1.0"/>
<line x1="147.05" y1="31.76" x2="148.04" y2="34.63" stroke-width="1.0"/>
<line x1="149.12" y1="30.69" x2="150.33" y2="34.21" stroke-width="1.0"/>
<line x1="151.18" y1="29.62" x2="152.62" y2="33.78" stroke-width="1.0"/>
<text transform="translate(152.61,36.00) scale(0.85,1)" font-size="9.7">O</text>
<text transform="translate(159.32,36.00) scale(0.85,1)" font-size="9.7">H</text>
</g>
</g>
<g transform="translate(395,499)">
<line x1="64.00" y1="59.00" x2="48.50" y2="66.50" stroke-width="1.0"/>
<line x1="48.50" y1="66.50" x2="48.50" y2="85.50" stroke-width="1.0"/>
<line x1="48.50" y1="85.50" x2="63.50" y2="93.50" stroke-width="1.0"/>
<line x1="63.50" y1="93.50" x2="78.50" y2="86.00" stroke-width="1.0"/>
<line x1="78.50" y1="86.00" x2="78.50" y2="66.50" stroke-width="1.0"/>
<line x1="78.50" y1="66.50" x2="64.00" y2="59.00" stroke-width="1.0"/>
<line x1="78.50" y1="86.00" x2="93.50" y2="93.50" stroke-width="1.0"/>
<line x1="93.50" y1="93.50" x2="108.50" y2="86.00" stroke-width="1.0"/>
<line x1="108.50" y1="86.00" x2="108.50" y2="67.50" stroke-width="1.0"/>
<line x1="108.50" y1="67.50" x2="94.50" y2="59.50" stroke-width="1.0"/>
<line x1="94.50" y1="59.50" x2="78.50" y2="66.50" stroke-width="1.0"/>
<line x1="94.50" y1="59.50" x2="94.50" y2="42.00" stroke-width="1.0"/>
<line x1="94.50" y1="42.00" x2="108.50" y2="34.50" stroke-width="1.0"/>
<line x1="108.50" y1="34.50" x2="123.50" y2="41.80" stroke-width="1.0"/>
<line x1="123.50" y1="41.80" x2="123.50" y2="59.80" stroke-width="1.0"/>
<line x1="123.50" y1="59.80" x2="108.50" y2="67.50" stroke-width="1.0"/>
<line x1="123.50" y1="41.80" x2="139.50" y2="37.00" stroke-width="1.0"/>
<line x1="139.50" y1="37.00" x2="148.50" y2="51.40" stroke-width="1.0"/>
<line x1="148.50" y1="51.40" x2="139.50" y2="64.50" stroke-width="1.0"/>
<line x1="139.50" y1="64.50" x2="123.50" y2="59.80" stroke-width="1.0"/>
<line x1="52.10" y1="69.80" x2="64.00" y2="63.20" stroke-width="1.0"/>
<line x1="63.40" y1="89.80" x2="74.70" y2="83.70" stroke-width="1.0"/>
<line x1="37.50" y1="88.40" x2="47.50" y2="83.20" stroke-width="1.0"/>
<line x1="38.50" y1="90.80" x2="48.50" y2="85.50" stroke-width="1.0"/>
<text transform="translate(29.61,95.00) scale(0.85,1)" font-size="9.7">O</text>
<polygon points="76,55 82,55 82,58 81,58 81,64 80,64 80,67 78,67 78,64 77,64 77,58 76,58"/>
<text transform="translate(74.58,54.00) scale(0.85,1)" font-size="9.7">C</text>
<text transform="translate(81.32,54.00) scale(0.85,1)" font-size="9.7">H</text>
<text transform="translate(87.77,57.00) scale(0.85,1)" font-size="7.0" class="s" fill="#9a9a9a">3</text>
<polygon points="121,31 126,31 126,36 125,36 125,39 124,39 124,42 123,42 123,39 122,39 122,34 121,34"/>
<text transform="translate(119.58,30.00) scale(0.85,1)" font-size="9.7">C</text>
<text transform="translate(126.32,30.00) scale(0.85,1)" font-size="9.7">H</text>
<text transform="translate(131.77,33.00) scale(0.85,1)" font-size="7.0" class="s" fill="#9a9a9a">3</text>
<polygon points="106,54 112,54 112,58 111,58 111,63 110,63 110,67 108,67 108,63 107,63 107,58 106,58"/>
<text transform="translate(104.32,52.00) scale(0.85,1)" font-size="9.7">H</text>
<line x1="93.80" y1="63.50" x2="95.80" y2="63.50" stroke-width="1.0"/>
<line x1="93.40" y1="66.50" x2="96.20" y2="66.50" stroke-width="1.0"/>
<line x1="92.90" y1="69.20" x2="96.70" y2="69.20" stroke-width="1.0"/>
<line x1="92.60" y1="71.50" x2="97.00" y2="71.50" stroke-width="1.0"/>
<text transform="translate(90.32,80.00) scale(0.85,1)" font-size="9.7">H</text>
<line x1="123.00" y1="63.50" x2="125.00" y2="63.50" stroke-width="1.0"/>
<line x1="122.60" y1="66.50" x2="125.40" y2="66.50" stroke-width="1.0"/>
<line x1="122.10" y1="69.20" x2="125.90" y2="69.20" stroke-width="1.0"/>
<line x1="121.80" y1="71.50" x2="126.20" y2="71.50" stroke-width="1.0"/>
<text transform="translate(119.32,81.00) scale(0.85,1)" font-size="9.7">H</text>
<polygon shape-rendering="auto" points="85.50,35.00 95.00,42.30 95.00,44.00 93.00,44.00 83.00,40.00 83.00,38.00"/>
<text transform="translate(68.32,37.00) scale(0.85,1)" font-size="9.7">H</text>
<text transform="translate(75.61,37.00) scale(0.85,1)" font-size="9.7">O</text>
<g transform="translate(0,1)">
<polygon points="137,18 142,18 142,23 141,23 141,32 140,32 140,37 139,37 139,32 138,32 138,23 137,23"/>
<line x1="130.20" y1="12.10" x2="139.50" y2="17.70" stroke-width="1.0"/>
<line x1="128.20" y1="15.30" x2="137.50" y2="19.30" stroke-width="1.0"/>
<text transform="translate(120.61,14.00) scale(0.85,1)" font-size="9.7">O</text>
<line x1="141.50" y1="17.70" x2="153.90" y2="11.30" stroke-width="1.0"/>
<line x1="153.90" y1="11.30" x2="164.00" y2="16.50" stroke-width="1.0"/>
<text transform="translate(164.61,22.00) scale(0.85,1)" font-size="9.7">O</text>
<line x1="174.00" y1="15.50" x2="178.90" y2="13.10" stroke-width="1.0"/>
<text transform="translate(180.63,14.00) scale(0.85,1)" font-size="9.7">S</text>
<line x1="175.20" y1="4.30" x2="178.90" y2="6.30" stroke-width="1.0"/>
<line x1="173.20" y1="7.50" x2="176.90" y2="8.70" stroke-width="1.0"/>
<text transform="translate(165.61,5.00) scale(0.85,1)" font-size="9.7">O</text>
<line x1="188.10" y1="6.30" x2="192.90" y2="4.30" stroke-width="1.0"/>
<line x1="190.10" y1="8.70" x2="193.70" y2="7.10" stroke-width="1.0"/>
<text transform="translate(194.61,5.00) scale(0.85,1)" font-size="9.7">O</text>
<line x1="189.30" y1="14.30" x2="192.90" y2="16.70" stroke-width="1.0"/>
<text transform="translate(194.58,22.00) scale(0.85,1)" font-size="9.7">C</text>
<text transform="translate(201.32,22.00) scale(0.85,1)" font-size="9.7">H</text>
<text transform="translate(206.77,25.00) scale(0.85,1)" font-size="7.0" class="s" fill="#9a9a9a">3</text>
<line x1="140.86" y1="34.97" x2="141.18" y2="35.91" stroke-width="1.0"/>
<line x1="142.92" y1="33.90" x2="143.47" y2="35.49" stroke-width="1.0"/>
<line x1="144.99" y1="32.83" x2="145.76" y2="35.06" stroke-width="1.0"/>
<line x1="147.05" y1="31.76" x2="148.04" y2="34.63" stroke-width="1.0"/>
<line x1="149.12" y1="30.69" x2="150.33" y2="34.21" stroke-width="1.0"/>
<line x1="151.18" y1="29.62" x2="152.62" y2="33.78" stroke-width="1.0"/>
<text transform="translate(152.61,36.00) scale(0.85,1)" font-size="9.7">O</text>
<text transform="translate(159.32,36.00) scale(0.85,1)" font-size="9.7">H</text>
</g>
</g>
<rect x="185" y="59" width="281" height="1"/>
<rect x="459" y="58" width="5" height="3"/>
<rect x="457" y="57" width="3" height="1"/>
<rect x="458" y="61" width="1" height="1"/>
<line x1="466.50" y1="97.30" x2="219.20" y2="190.50" stroke-width="1.0"/>
<polygon shape-rendering="auto" points="219.20,190.50 226.74,184.99 225.28,188.21 228.50,189.67"/>
<rect x="206" y="222" width="225" height="1"/>
<rect x="424" y="221" width="5" height="3"/>
<rect x="422" y="220" width="3" height="1"/>
<rect x="423" y="224" width="1" height="1"/>
<line x1="212.30" y1="351.50" x2="426.80" y2="257.40" stroke-width="1.0"/>
<polygon shape-rendering="auto" points="426.80,257.40 419.56,263.31 420.85,260.01 417.55,258.73"/>
<rect x="195" y="377" width="265" height="1"/>
<rect x="198" y="376" width="4" height="3"/>
<rect x="202" y="375" width="2" height="1"/>
<rect x="202" y="379" width="3" height="1"/>
<line x1="219.40" y1="504.60" x2="458.80" y2="411.40" stroke-width="1.0"/>
<polygon shape-rendering="auto" points="458.80,411.40 451.32,416.99 452.74,413.76 449.51,412.34"/>
<rect x="210" y="566" width="189" height="1"/>
<rect x="213" y="565" width="4" height="3"/>
<rect x="217" y="564" width="2" height="1"/>
<rect x="217" y="568" width="3" height="1"/>
<text transform="translate(308.58,56.00) scale(0.85,1)" font-size="9.7">C</text>
<text transform="translate(314.45,56.00) scale(0.85,1)" font-size="9.7">r</text>
<text transform="translate(318.61,56.00) scale(0.85,1)" font-size="9.7">O</text>
<text transform="translate(324.77,58.00) scale(0.85,1)" font-size="7.0" class="s" fill="#9a9a9a">3</text>
<text transform="translate(304.32,77.00) scale(0.85,1)" font-size="9.7">M</text>
<text transform="translate(311.45,77.00) scale(0.85,1)" font-size="9.7">n</text>
<text transform="translate(316.49,77.00) scale(0.85,1)" font-size="9.7">(</text>
<text transform="translate(321.32,77.00) scale(0.85,1)" font-size="9.7">N</text>
<text transform="translate(328.61,77.00) scale(0.85,1)" font-size="9.7">O</text>
<text transform="translate(333.77,80.00) scale(0.85,1)" font-size="7.0" class="s" fill="#9a9a9a">3</text>
<text transform="translate(336.95,77.00) scale(0.85,1)" font-size="9.7">)</text>
<text transform="translate(339.70,80.00) scale(0.85,1)" font-size="7.0" class="s" fill="#9a9a9a">2</text>
<text transform="translate(324.47,128.00) scale(0.85,1)" font-size="9.7">p</text>
<text transform="translate(329.63,128.00) scale(0.85,1)" font-size="9.7">-</text>
<text transform="translate(332.81,128.00) scale(0.85,1)" font-size="9.7">T</text>
<text transform="translate(338.77,128.00) scale(0.85,1)" font-size="9.7">s</text>
<text transform="translate(343.61,128.00) scale(0.85,1)" font-size="9.7">O</text>
<text transform="translate(350.32,128.00) scale(0.85,1)" font-size="9.7">H</text>
<text transform="translate(298.32,215.00) scale(0.85,1)" font-size="9.7">K</text>
<text transform="translate(304.32,215.00) scale(0.85,1)" font-size="9.7">B</text>
<text transform="translate(310.32,215.00) scale(0.85,1)" font-size="9.7">H</text>
<text transform="translate(321.86,216.00) scale(0.85,1)" font-size="7.0" class="s" fill="#9a9a9a">4</text>
<text transform="translate(292.49,241.00) scale(0.85,1)" font-size="9.7">(</text>
<text transform="translate(296.32,241.00) scale(0.85,1)" font-size="9.7">E</text>
<text transform="translate(300.88,241.00) scale(0.85,1)" font-size="9.7">t</text>
<text transform="translate(305.58,241.00) scale(0.85,1)" font-size="9.7">C</text>
<text transform="translate(312.61,241.00) scale(0.85,1)" font-size="9.7">O</text>
<text transform="translate(318.95,241.00) scale(0.85,1)" font-size="9.7">)</text>
<text transform="translate(321.70,243.00) scale(0.85,1)" font-size="7.0" class="s" fill="#9a9a9a">2</text>
<text transform="translate(325.61,241.00) scale(0.85,1)" font-size="9.7">O</text>
<text transform="translate(303.74,301.00) scale(0.85,1)" font-size="9.7">Z</text>
<text transform="translate(309.45,301.00) scale(0.85,1)" font-size="9.7">n</text>
<text transform="translate(322.58,328.00) scale(0.85,1)" font-size="9.7">C</text>
<text transform="translate(329.32,328.00) scale(0.85,1)" font-size="9.7">H</text>
<text transform="translate(335.77,330.00) scale(0.85,1)" font-size="7.0" class="s" fill="#9a9a9a">3</text>
<text transform="translate(339.58,328.00) scale(0.85,1)" font-size="9.7">C</text>
<text transform="translate(346.61,328.00) scale(0.85,1)" font-size="9.7">O</text>
<text transform="translate(352.70,330.00) scale(0.85,1)" font-size="7.0" class="s" fill="#9a9a9a">2</text>
<text transform="translate(356.32,328.00) scale(0.85,1)" font-size="9.7">H</text>
<text transform="translate(325.47,372.00) scale(0.85,1)" font-size="9.7">p</text>
<text transform="translate(330.63,372.00) scale(0.85,1)" font-size="9.7">-</text>
<text transform="translate(333.81,372.00) scale(0.85,1)" font-size="9.7">T</text>
<text transform="translate(339.77,372.00) scale(0.85,1)" font-size="9.7">s</text>
<text transform="translate(344.61,372.00) scale(0.85,1)" font-size="9.7">O</text>
<text transform="translate(351.32,372.00) scale(0.85,1)" font-size="9.7">H</text>
<text transform="translate(318.49,399.00) scale(0.85,1)" font-size="9.7">(</text>
<text transform="translate(322.32,399.00) scale(0.85,1)" font-size="9.7">E</text>
<text transform="translate(326.88,399.00) scale(0.85,1)" font-size="9.7">t</text>
<text transform="translate(331.58,399.00) scale(0.85,1)" font-size="9.7">C</text>
<text transform="translate(338.61,399.00) scale(0.85,1)" font-size="9.7">O</text>
<text transform="translate(344.95,399.00) scale(0.85,1)" font-size="9.7">)</text>
<text transform="translate(347.70,401.00) scale(0.85,1)" font-size="7.0" class="s" fill="#9a9a9a">2</text>
<text transform="translate(351.61,399.00) scale(0.85,1)" font-size="9.7">O</text>
<text transform="translate(317.32,455.00) scale(0.85,1)" font-size="9.7">N</text>
<text transform="translate(323.65,455.00) scale(0.85,1)" font-size="9.7">a</text>
<text transform="translate(329.24,455.00) scale(0.85,1)" font-size="9.7">I</text>
<text transform="translate(325.32,482.00) scale(0.85,1)" font-size="9.7">N</text>
<text transform="translate(331.65,482.00) scale(0.85,1)" font-size="9.7">a</text>
<text transform="translate(337.32,482.00) scale(0.85,1)" font-size="9.7">H</text>
<text transform="translate(344.63,482.00) scale(0.85,1)" font-size="9.7">S</text>
<text transform="translate(350.61,482.00) scale(0.85,1)" font-size="9.7">O</text>
<text transform="translate(356.77,484.00) scale(0.85,1)" font-size="7.0" class="s" fill="#9a9a9a">3</text>
<text transform="translate(286.58,560.00) scale(0.85,1)" font-size="9.7">C</text>
<text transform="translate(294.32,560.00) scale(0.85,1)" font-size="9.7">H</text>
<text transform="translate(299.77,562.00) scale(0.85,1)" font-size="7.0" class="s" fill="#9a9a9a">3</text>
<text transform="translate(303.58,560.00) scale(0.85,1)" font-size="9.7">C</text>
<text transform="translate(310.61,560.00) scale(0.85,1)" font-size="9.7">O</text>
<text transform="translate(317.61,560.00) scale(0.85,1)" font-size="9.7">O</text>
<text transform="translate(325.32,560.00) scale(0.85,1)" font-size="9.7">N</text>
<text transform="translate(331.61,560.00) scale(0.85,1)" font-size="9.7">O</text>
<text transform="translate(337.70,562.00) scale(0.85,1)" font-size="7.0" class="s" fill="#9a9a9a">2</text>
<text transform="translate(89.49,128.00) scale(0.85,1)" font-size="9.7">(</text>
<text transform="translate(93.24,128.00) scale(0.85,1)" font-size="9.7">I</text>
<text transform="translate(95.95,128.00) scale(0.85,1)" font-size="9.7">)</text>
<text transform="translate(565.49,129.00) scale(0.85,1)" font-size="9.7">(</text>
<text transform="translate(569.24,129.00) scale(0.85,1)" font-size="9.7">I</text>
<text transform="translate(572.24,129.00) scale(0.85,1)" font-size="9.7">I</text>
<text transform="translate(574.95,129.00) scale(0.85,1)" font-size="9.7">)</text>
<text transform="translate(105.49,283.00) scale(0.85,1)" font-size="9.7">(</text>
<text transform="translate(109.24,283.00) scale(0.85,1)" font-size="9.7">I</text>
<text transform="translate(112.24,283.00) scale(0.85,1)" font-size="9.7">I</text>
<text transform="translate(115.24,283.00) scale(0.85,1)" font-size="9.7">I</text>
<text transform="translate(117.95,283.00) scale(0.85,1)" font-size="9.7">)</text>
<text transform="translate(87.49,447.00) scale(0.85,1)" font-size="9.7">(</text>
<text transform="translate(91.00,447.00) scale(1.0,1)" font-size="9.7">V</text>
<text transform="translate(97.24,447.00) scale(0.85,1)" font-size="9.7">I</text>
<text transform="translate(100.24,447.00) scale(0.85,1)" font-size="9.7">I</text>
<text transform="translate(102.95,447.00) scale(0.85,1)" font-size="9.7">)</text>
<text transform="translate(558.49,441.00) scale(0.85,1)" font-size="9.7">(</text>
<text transform="translate(562.00,441.00) scale(1.0,1)" font-size="9.7">V</text>
<text transform="translate(568.24,441.00) scale(0.85,1)" font-size="9.7">I</text>
<text transform="translate(571.95,441.00) scale(0.85,1)" font-size="9.7">)</text>
<text transform="translate(96.49,618.00) scale(0.85,1)" font-size="9.7">(</text>
<text transform="translate(100.00,618.00) scale(1.0,1)" font-size="9.7">V</text>
<text transform="translate(105.95,618.00) scale(0.85,1)" font-size="9.7">)</text>
<text transform="translate(517.49,620.00) scale(0.85,1)" font-size="9.7">(</text>
<text transform="translate(521.24,620.00) scale(0.85,1)" font-size="9.7">I</text>
<text transform="translate(524.00,620.00) scale(1.0,1)" font-size="9.7">V</text>
<text transform="translate(529.95,620.00) scale(0.85,1)" font-size="9.7">)</text>
</g>
</svg>
</body></html>
